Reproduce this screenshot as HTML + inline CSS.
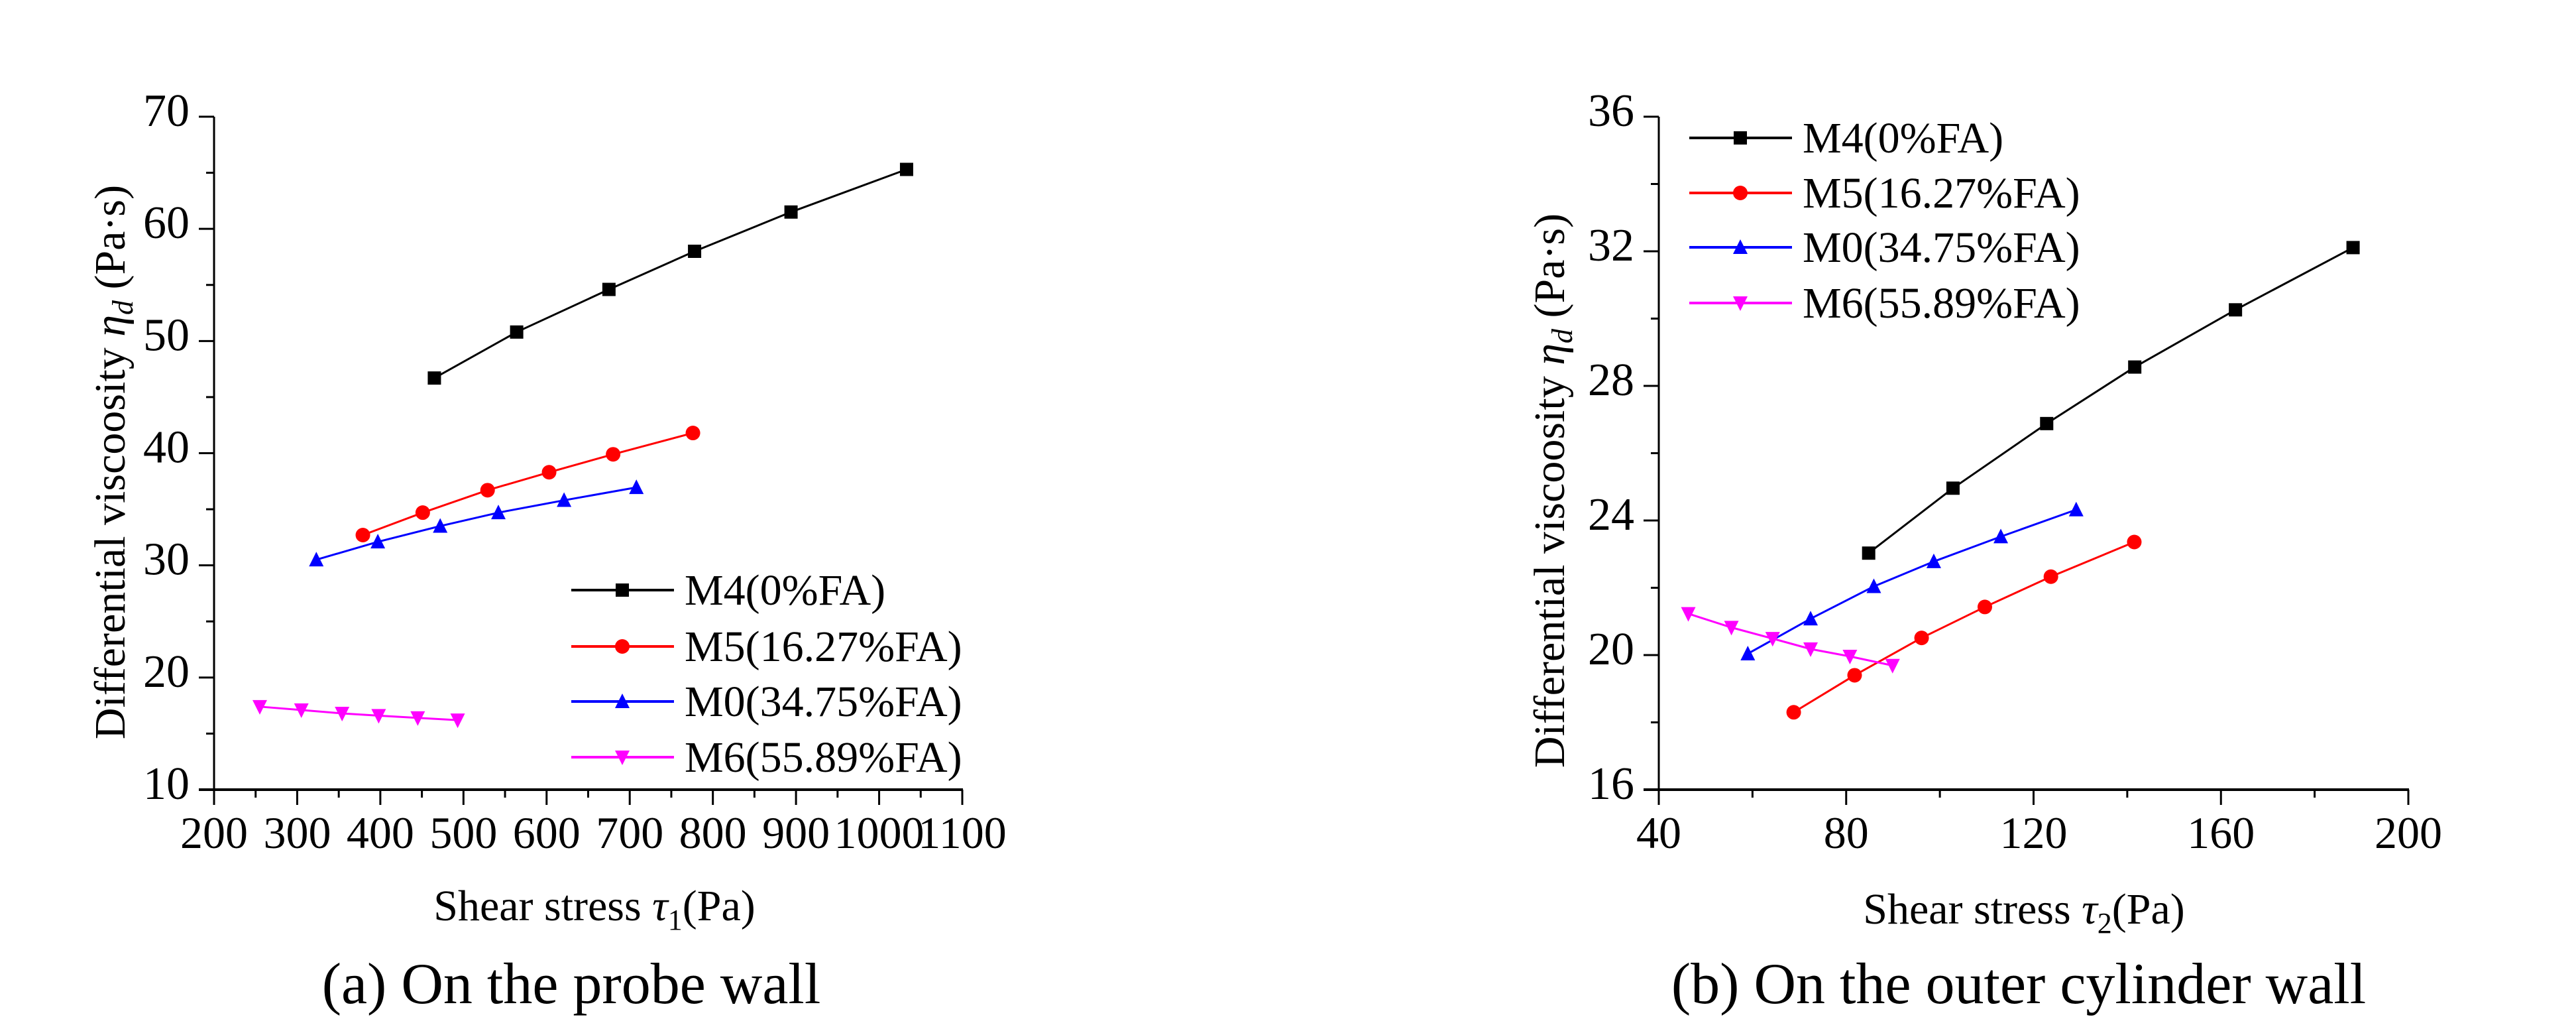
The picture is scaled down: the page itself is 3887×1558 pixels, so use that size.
<!DOCTYPE html>
<html><head><meta charset="utf-8"><style>
html,body{margin:0;padding:0;background:#fff;}
svg, svg text{font-family:"Liberation Serif","Times New Roman",serif;}
</style></head><body>
<svg id="fig" width="3887" height="1553" viewBox="0 0 3887 1553" xmlns="http://www.w3.org/2000/svg" font-family="Liberation Serif, serif">
<rect width="3887" height="1553" fill="#fff"/>
<g id="chartA"></g>
<g id="chartB"></g>
<text x="862" y="1513" font-size="88" font-family="Liberation Serif, serif" text-anchor="middle">(a) On the probe wall</text>
<text x="3046" y="1513" font-size="88" font-family="Liberation Serif, serif" text-anchor="middle">(b) On the outer cylinder wall</text>
</svg>
<script>
const seriesNames = ["M4(0%FA)","M5(16.27%FA)","M0(34.75%FA)","M6(55.89%FA)"];
const seriesColors = ["#000000","#ff0000","#0000ff","#ff00ff"];
const seriesMarkers = ["square","circle","triangle","triangle-down"];

// Chart (a)
const aXTicks = [200,300,400,500,600,700,800,900,1000,1100];
const aYTicks = [10,20,30,40,50,60,70];
const aM4x = [465,564,675,778,894,1033];
const aM4y = [46.7,50.8,54.6,58.0,61.5,65.3];
const aM5x = [379,451,529,603,680,776];
const aM5y = [32.7,34.7,36.7,38.3,39.9,41.8];
const aM0x = [323,397,472,542,621,708];
const aM0y = [30.5,32.1,33.5,34.7,35.8,36.95];
const aM6x = [255,305,354,398,445,493];
const aM6y = [17.4,17.1,16.8,16.6,16.4,16.2];

// Chart (b)
const bXTicks = [40,80,120,160,200];
const bYTicks = [16,20,24,28,32,36];
const bM4x = [84.8,102.8,122.8,141.6,163.1,188.2];
const bM4y = [23.03,24.96,26.88,28.56,30.26,32.11];
const bM5x = [68.8,81.8,96.1,109.6,123.7,141.5];
const bM5y = [18.3,19.4,20.51,21.43,22.33,23.36];
const bM0x = [59.0,72.4,85.9,98.7,113.0,129.1];
const bM0y = [20.04,21.08,22.04,22.78,23.52,24.32];
const bM6x = [46.3,55.5,64.3,72.4,80.8,89.9];
const bM6y = [21.23,20.82,20.49,20.18,19.96,19.69];

const NS = "http://www.w3.org/2000/svg";
const FONT = "Liberation Serif, Times New Roman, serif";
function mk(parent, tag, attrs){
  const e = document.createElementNS(NS, tag);
  for (const k in attrs) e.setAttribute(k, attrs[k]);
  if (tag === "text") e.setAttribute("font-family", FONT);
  parent.appendChild(e);
  return e;
}
function marker(g, type, cx, cy, color){
  let e;
  const s = 10;
  if (type === "square") e = mk(g, "rect", {x:cx-s, y:cy-s, width:2*s, height:2*s, fill:color});
  else if (type === "circle") e = mk(g, "circle", {cx:cx, cy:cy, r:s+1, fill:color});
  else if (type === "triangle") e = mk(g, "polygon", {points:`${cx},${cy-s-2} ${cx+s+1},${cy+s} ${cx-s-1},${cy+s}`, fill:color});
  else e = mk(g, "polygon", {points:`${cx-s-1},${cy-s} ${cx+s+1},${cy-s} ${cx},${cy+s+2}`, fill:color});
  return e;
}

function drawChart(cfg){
  const g = document.getElementById(cfg.id);
  const sx = v => cfg.x0 + (v - cfg.xmin) / (cfg.xmax - cfg.xmin) * (cfg.x1 - cfg.x0);
  const sy = v => cfg.y0 - (v - cfg.ymin) / (cfg.ymax - cfg.ymin) * (cfg.y0 - cfg.y1);
  const ya = mk(g, "line", {x1:cfg.x0, y1:cfg.y1, x2:cfg.x0, y2:cfg.y0+1, stroke:"#000", "stroke-width":3});
  
  
  const xa = mk(g, "line", {x1:cfg.x0-23, y1:cfg.y0, x2:cfg.x1+1, y2:cfg.y0, stroke:"#000", "stroke-width":4});
  
  
  for (let i = 0; i < cfg.xTicks.length; i++){
    const v = cfg.xTicks[i];
    const t = mk(g, "line", {x1:sx(v), y1:cfg.y0, x2:sx(v), y2:cfg.y0+23, stroke:"#000", "stroke-width":3});
    
    
    const lb = mk(g, "text", {x:sx(v), y:cfg.y0+88, "font-size":68, "text-anchor":"middle"});
    lb.textContent = v;
    
    
    if (i < cfg.xTicks.length - 1){
      const m = (v + cfg.xTicks[i+1]) / 2;
      const mt = mk(g, "line", {x1:sx(m), y1:cfg.y0, x2:sx(m), y2:cfg.y0+12, stroke:"#000", "stroke-width":3});
      
      
    }
  }
  for (let i = 0; i < cfg.yTicks.length; i++){
    const v = cfg.yTicks[i];
    const t = mk(g, "line", {x1:cfg.x0-23, y1:sy(v), x2:cfg.x0, y2:sy(v), stroke:"#000", "stroke-width":3});
    
    
    const lb = mk(g, "text", {x:cfg.x0-37, y:sy(v)+14, "font-size":70, "text-anchor":"end"});
    lb.textContent = v;
    
    
    if (i < cfg.yTicks.length - 1){
      const m = (v + cfg.yTicks[i+1]) / 2;
      const mt = mk(g, "line", {x1:cfg.x0-12, y1:sy(m), x2:cfg.x0, y2:sy(m), stroke:"#000", "stroke-width":3});
      
      
    }
  }
  const yt = mk(g, "text", {transform:`translate(${cfg.ytx},${cfg.yty}) rotate(-90)`, "font-size":66, "text-anchor":"middle"});
  yt.innerHTML = 'Differential viscoosity <tspan font-style="italic">η</tspan><tspan font-style="italic" font-size="44" dy="12">d</tspan><tspan dy="-12"> (Pa·s)</tspan>';
  
  
  const xt = mk(g, "text", {x:cfg.xtx, y:cfg.xty, "font-size":66, "text-anchor":"middle"});
  xt.innerHTML = 'Shear stress  <tspan font-style="italic">τ</tspan><tspan font-size="44" dy="14">' + cfg.sub + '</tspan><tspan dy="-14">(Pa)</tspan>';
  
  
  for (let s = 0; s < cfg.series.length; s++){
    const xs = cfg.series[s][0], ys = cfg.series[s][1];
    const sg = mk(g, "g", {});
    
    
    const pts = xs.map((v,i) => sx(v) + "," + sy(ys[i])).join(" ");
    const pl = mk(sg, "polyline", {points:pts, fill:"none", stroke:seriesColors[s], "stroke-width":3});
    
    
    for (let i = 0; i < xs.length; i++){
      const m = marker(sg, seriesMarkers[s], sx(xs[i]), sy(ys[i]), seriesColors[s]);
      
      
    }
  }
  const lg = mk(g, "g", {});
  
  
  for (let s = 0; s < seriesNames.length; s++){
    const y = cfg.legY[s];
    const eg = mk(lg, "g", {});
    
    
    mk(eg, "line", {x1:cfg.legX, y1:y, x2:cfg.legX+155, y2:y, stroke:seriesColors[s], "stroke-width":4});
    marker(eg, seriesMarkers[s], cfg.legX+77, y, seriesColors[s]);
    const tx = mk(eg, "text", {x:cfg.legX+171, y:y+22, "font-size":66});
    tx.textContent = seriesNames[s];
  }
}

drawChart({id:"chartA", x0:323, x1:1452, y0:1191, y1:176, xmin:200, xmax:1100, ymin:10, ymax:70,
  xTicks:aXTicks, yTicks:aYTicks, ytx:188, yty:697, xtx:897, xty:1388, sub:"1",
  series:[[aM4x,aM4y],[aM5x,aM5y],[aM0x,aM0y],[aM6x,aM6y]],
  legX:862, legY:[890,975,1058,1142]});
drawChart({id:"chartB", x0:2503, x1:3634, y0:1191, y1:176, xmin:40, xmax:200, ymin:16, ymax:36,
  xTicks:bXTicks, yTicks:bYTicks, ytx:2360, yty:740, xtx:3054, xty:1393, sub:"2",
  series:[[bM4x,bM4y],[bM5x,bM5y],[bM0x,bM0y],[bM6x,bM6y]],
  legX:2549, legY:[208,291,373,457]});
</script>
</body></html>
